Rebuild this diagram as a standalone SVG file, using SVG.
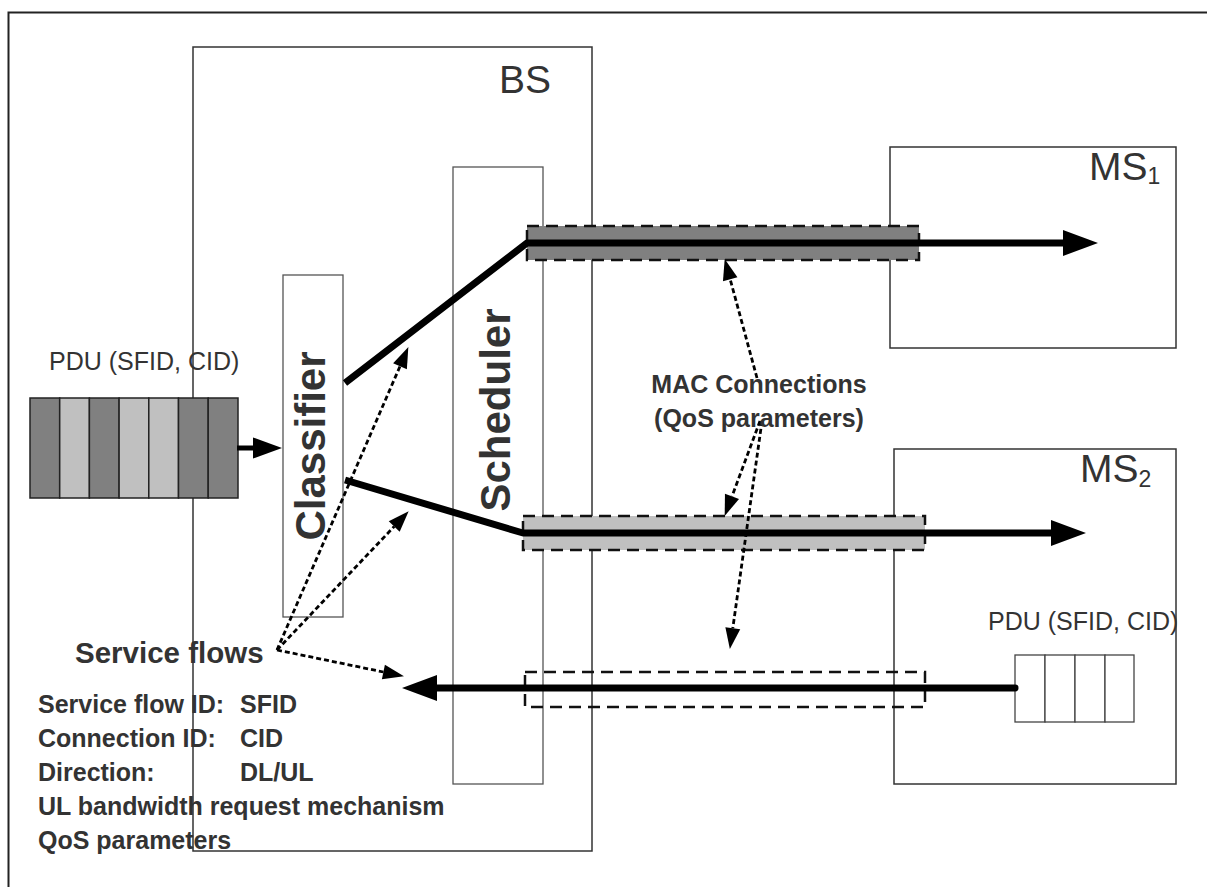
<svg xmlns="http://www.w3.org/2000/svg" width="1207" height="887" viewBox="0 0 1207 887">
<style>
  .t { font-family: "Liberation Sans", Arial, sans-serif; fill: #333; }
  .b { font-weight: bold; }
  .box { fill: none; stroke: #333; stroke-width: 1.5; }
  .ibox { fill: none; stroke: #555; stroke-width: 1.3; }
  .dbox { stroke: #111; stroke-width: 2.5; stroke-dasharray: 12 7; }
  .thick { fill: none; stroke: #000; stroke-width: 7; stroke-linejoin: round; }
  .dot { fill: none; stroke: #000; stroke-width: 2.8; stroke-dasharray: 5 3; }
  .cell { stroke: #222; stroke-width: 1.5; }
</style>
<defs>
  <marker id="big" markerUnits="userSpaceOnUse" markerWidth="36" markerHeight="28" refX="0" refY="14" orient="auto" overflow="visible">
    <path d="M0,1 L35,14 L0,27 z" fill="#000"/>
  </marker>
  <marker id="small" markerUnits="userSpaceOnUse" markerWidth="30" markerHeight="22" refX="0" refY="11" orient="auto" overflow="visible">
    <path d="M0,0.5 L29,11 L0,21.5 z" fill="#000"/>
  </marker>
  <marker id="dh" markerUnits="userSpaceOnUse" markerWidth="22" markerHeight="16" refX="0" refY="8" orient="auto" overflow="visible">
    <path d="M0,0.5 L21,8 L0,15.5 z" fill="#000"/>
  </marker>
</defs>
<rect width="1207" height="887" fill="#fff"/>
<path d="M8.5,887 L8.5,12.5 L1207,12.5" fill="none" stroke="#222" stroke-width="2"/>

<g id="bs">
  <rect class="box" x="193" y="47" width="399" height="804"/>
  <text class="t" x="499" y="93" font-size="39">BS</text>
</g>
<g id="classifier">
  <rect class="ibox" x="283" y="275" width="60" height="342"/>
  <text class="t b" font-size="42" text-anchor="middle" transform="translate(325,446) rotate(-90)">Classifier</text>
</g>
<g id="scheduler">
  <rect class="ibox" x="453" y="167" width="90" height="617"/>
  <text class="t b" font-size="42" text-anchor="middle" transform="translate(510,410) rotate(-90)">Scheduler</text>
</g>
<g id="ms1">
  <rect class="box" x="890" y="147" width="286" height="201" stroke="#555"/>
  <text class="t" x="1089" y="180" font-size="39">MS<tspan font-size="23" dy="4">1</tspan></text>
</g>
<g id="ms2">
  <rect class="box" x="894" y="449" width="282" height="335"/>
  <text class="t" x="1080" y="482" font-size="39">MS<tspan font-size="23" dy="5">2</tspan></text>
</g>

<g id="pdu-in">
  <text class="t" x="49" y="370" font-size="25">PDU (SFID, CID)</text>
  <rect class="cell" x="30" y="398" width="29.7" height="100" fill="#808080"/>
  <rect class="cell" x="59.7" y="398" width="29.7" height="100" fill="#c0c0c0"/>
  <rect class="cell" x="89.4" y="398" width="29.7" height="100" fill="#808080"/>
  <rect class="cell" x="119.1" y="398" width="29.7" height="100" fill="#c0c0c0"/>
  <rect class="cell" x="148.8" y="398" width="29.7" height="100" fill="#c0c0c0"/>
  <rect class="cell" x="178.5" y="398" width="29.7" height="100" fill="#808080"/>
  <rect class="cell" x="208.2" y="398" width="29.8" height="100" fill="#808080"/>
</g>

<g id="pdu-ms2">
  <text class="t" x="988" y="630" font-size="25">PDU (SFID, CID)</text>
  <rect x="1015" y="655" width="30" height="67" fill="#fff" stroke="#444" stroke-width="1.3"/>
  <rect x="1045" y="655" width="30" height="67" fill="#fff" stroke="#444" stroke-width="1.3"/>
  <rect x="1075" y="655" width="30" height="67" fill="#fff" stroke="#444" stroke-width="1.3"/>
  <rect x="1105" y="655" width="29" height="67" fill="#fff" stroke="#444" stroke-width="1.3"/>
</g>

<g id="mac-connections">
  <rect class="dbox" x="527" y="226" width="392" height="34" fill="#808080"/>
  <rect class="dbox" x="523" y="516" width="402" height="34" fill="#c0c0c0"/>
  <rect class="dbox" x="525" y="672" width="400" height="35" fill="none"/>
</g>

<g id="connectors">
  <path class="thick" d="M345,383 L527,243 L1063,243" marker-end="url(#big)"/>
  <path class="thick" d="M345,480 L523,533 L1051,533" marker-end="url(#big)"/>
  <path class="thick" d="M1015,688 L437,688" stroke-linecap="round" marker-end="url(#big)"/>
  <path d="M237,448 L253,448" fill="none" stroke="#000" stroke-width="5" marker-end="url(#small)"/>
  <path class="dot" d="M277,650 L400,366.3" marker-end="url(#dh)"/>
  <path class="dot" d="M277,650 L394.2,526.5" marker-end="url(#dh)"/>
  <path class="dot" d="M277,650 L383.4,672" marker-end="url(#dh)"/>
  <path class="dot" d="M757,378 L730.2,279.3" marker-end="url(#dh)"/>
  <path class="dot" d="M760,421 L732,496.3" marker-end="url(#dh)"/>
  <path class="dot" d="M762,421 L732.8,628.2" marker-end="url(#dh)"/>
</g>

<g id="labels">
  <text class="t b" x="759" y="393" font-size="25" text-anchor="middle">MAC Connections</text>
  <text class="t b" x="759" y="427" font-size="25" text-anchor="middle">(QoS parameters)</text>
  <text class="t b" x="75" y="663" font-size="29.5">Service flows</text>
  <text class="t b" x="38" y="713" font-size="25">Service flow ID:</text>
  <text class="t b" x="240" y="713" font-size="25">SFID</text>
  <text class="t b" x="38" y="747" font-size="25">Connection ID:</text>
  <text class="t b" x="240" y="747" font-size="25">CID</text>
  <text class="t b" x="38" y="781" font-size="25">Direction:</text>
  <text class="t b" x="240" y="781" font-size="25">DL/UL</text>
  <text class="t b" x="38" y="815" font-size="25">UL bandwidth request mechanism</text>
  <text class="t b" x="38" y="849" font-size="25">QoS parameters</text>
</g>
</svg>
